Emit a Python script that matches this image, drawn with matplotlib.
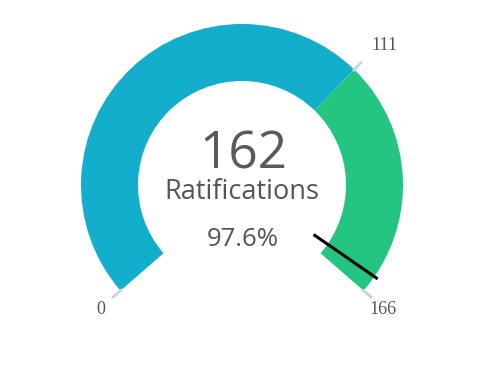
import matplotlib.pyplot as plt
import numpy as np
from matplotlib.patches import Wedge

# gauge data
min_val = 0
max_val = 166
threshold = 111
value = 162
label = 'Ratifications'
percent = '97.6%'
band_colors = ['#12aecb', '#24c481']

# geometry (pixel units, y up)
W, H = 500, 386
cx, cy = 242, 201
r_out, r_in = 161, 104
a_start, a_end = 221, -41

def ang(v):
    return a_start + (v - min_val) / (max_val - min_val) * (a_end - a_start)

fig = plt.figure(figsize=(W / 100, H / 100), dpi=100)
ax = fig.add_axes([0, 0, 1, 1])
ax.set_xlim(0, W)
ax.set_ylim(0, H)
ax.set_aspect('equal')
ax.axis('off')

# bands
bounds = [min_val, threshold, max_val]
for i in range(2):
    ax.add_patch(Wedge((cx, cy), r_out, ang(bounds[i + 1]), ang(bounds[i]),
                       width=r_out - r_in, facecolor=band_colors[i], edgecolor='none'))

# tick marks
for v in bounds:
    t = np.radians(ang(v))
    ax.plot([cx + (r_out - 2) * np.cos(t), cx + 172 * np.cos(t)],
            [cy + (r_out - 2) * np.sin(t), cy + 172 * np.sin(t)],
            color='#c5d3ea', lw=2, solid_capstyle='butt', zorder=1)

# tick labels
tick_pos = {min_val: (101, 76), threshold: (384, 340), max_val: (383, 77)}
for v, (x, y) in tick_pos.items():
    ax.text(x, y, str(v), ha='center', va='center', fontsize=13,
            family='Liberation Serif', color='#555555')

# needle
t = np.radians(ang(value))
ax.plot([cx + 87 * np.cos(t), cx + 165 * np.cos(t)],
        [cy + 87 * np.sin(t), cy + 165 * np.sin(t)],
        color='black', lw=2.2, solid_capstyle='butt', zorder=3)

# centre text
ax.text(243, 231, str(value), ha='center', va='center', fontsize=37,
        family='Open Sans', color='#5a5a5a')
ax.text(242, 194, label, ha='center', va='center', fontsize=19.5,
        family='Open Sans', color='#555555')
ax.text(243, 147, percent, ha='center', va='center', fontsize=18.5,
        family='Open Sans', color='#555555')

fig.savefig('out.png', dpi=100)
